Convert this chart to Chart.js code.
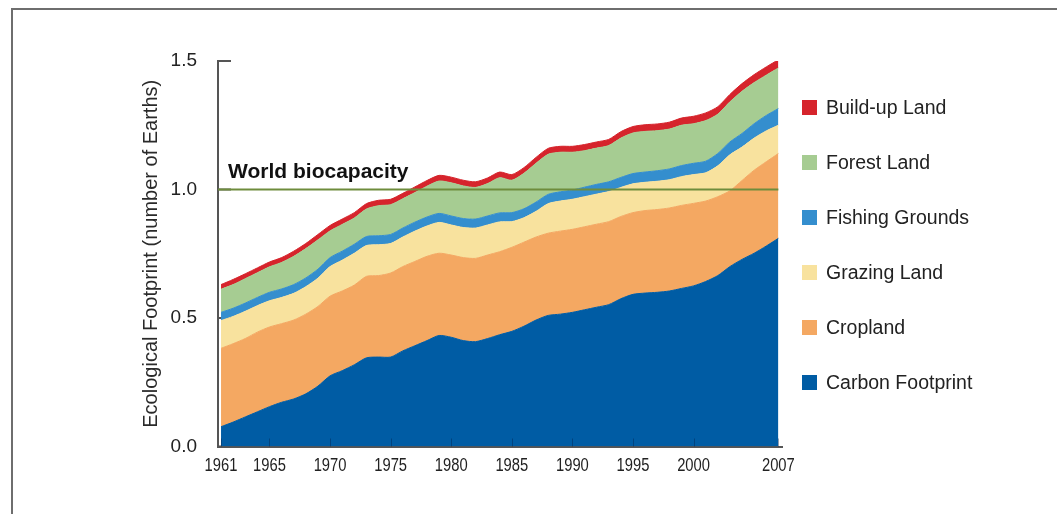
<!DOCTYPE html>
<html>
<head>
<meta charset="utf-8">
<script src="https://cdn.jsdelivr.net/npm/chart.js@4.4.0/dist/chart.umd.min.js"></script>
<style>
  body { margin: 0; background: #fff; width: 1057px; height: 514px; overflow: hidden; position: relative;
         font-family: 'Liberation Sans', Arial, sans-serif; }
  #frame { position: absolute; left: 11px; top: 8px; width: 1100px; height: 600px;
           border-top: 2px solid #6e6e6e; border-left: 2px solid #6e6e6e; }
  #canvas { position: absolute; left: 0; top: 0; }
  .item { position: absolute; left: 802px; height: 22px; font-size: 19.5px; color: #222; white-space: nowrap; }
  .item i { position: absolute; left: 0; top: 4px; width: 15px; height: 15px; }
  .item span { position: absolute; left: 24px; top: 0; line-height: 22px; }
</style>
</head>
<body>
<div id="frame"></div>
<canvas id="canvas" width="1057" height="514"></canvas>
<div id="legend"></div>
<script>
// data (number of Earths per category)
var years = [1961, 1962, 1963, 1964, 1965, 1966, 1967, 1968, 1969, 1970,
  1971, 1972, 1973, 1974, 1975, 1976, 1977, 1978, 1979, 1980,
  1981, 1982, 1983, 1984, 1985, 1986, 1987, 1988, 1989, 1990,
  1991, 1992, 1993, 1994, 1995, 1996, 1997, 1998, 1999, 2000,
  2001, 2002, 2003, 2004, 2005, 2006, 2007];
var tickYears = [1961, 1965, 1970, 1975, 1980, 1985, 1990, 1995, 2000, 2007];

var carbon = [.077, .095, .115, .135, .155, .172, .185, .205, .235, .275,
  .295, .318, .345, .348, .348, .372, .392, .412, .432, .425,
  .412, .408, .420, .435, .448, .468, .492, .510, .515, .522,
  .532, .542, .552, .575, .592, .597, .600, .605, .615, .625,
  .642, .665, .700, .728, .752, .780, .810];
var cropland = [.305, .305, .305, .310, .310, .306, .307, .310, .310, .310,
  .310, .310, .317, .317, .327, .328, .328, .328, .320, .320,
  .323, .324, .325, .323, .327, .327, .323, .320, .323, .323,
  .323, .323, .323, .320, .318, .321, .322, .323, .323, .321,
  .313, .307, .295, .307, .323, .328, .330];
var grazing = [.108, .106, .106, .103, .102, .102, .104, .107, .110, .115,
  .120, .124, .120, .120, .115, .115, .118, .118, .120, .117,
  .117, .118, .117, .116, .100, .095, .100, .115, .117, .117,
  .117, .117, .117, .113, .112, .110, .110, .110, .112, .112,
  .110, .120, .140, .130, .125, .120, .110];
var fishing = [.032, .032, .032, .032, .033, .033, .034, .034, .035, .035,
  .035, .035, .035, .035, .035, .035, .035, .035, .035, .035,
  .035, .035, .035, .035, .035, .035, .036, .036, .036, .036,
  .037, .038, .038, .039, .040, .040, .041, .042, .043, .044,
  .045, .048, .050, .053, .056, .060, .065];
var forest = [.090, .092, .095, .096, .099, .103, .110, .114, .114, .104,
  .104, .102, .107, .117, .116, .114, .115, .120, .126, .129,
  .127, .123, .126, .137, .126, .138, .151, .156, .154, .147,
  .142, .141, .141, .153, .158, .158, .156, .155, .157, .154,
  .158, .153, .156, .164, .160, .157, .158];
var builtUp = [.018, .020, .019, .019, .019, .019, .020, .020, .021, .021,
  .021, .021, .021, .021, .021, .021, .022, .022, .022, .022,
  .022, .022, .022, .022, .022, .022, .023, .023, .023, .023,
  .024, .024, .024, .025, .025, .026, .026, .027, .028, .029,
  .030, .029, .029, .030, .031, .032, .032];
var biocapacity = 1.0;

function pts(vals) {
  return years.map(function (yr, i) { return { x: yr, y: vals[i] }; });
}

function band(label, vals, color, fill) {
  return {
    label: label,
    data: pts(vals),
    backgroundColor: color,
    borderColor: color,
    borderWidth: 1,
    pointRadius: 0,
    tension: 0.25,
    fill: fill,
  };
}

var extras = {
  id: 'extras',
  beforeDatasetsDraw: function (chart) {
    var ctx = chart.ctx, area = chart.chartArea, y = chart.scales.y;
    ctx.save();
    ctx.strokeStyle = '#555';
    ctx.lineWidth = 2;
    y.ticks.forEach(function (t) {
      var py = y.getPixelForValue(t.value);
      ctx.beginPath();
      ctx.moveTo(area.left, py);
      ctx.lineTo(area.left + 13, py);
      ctx.stroke();
    });
    ctx.restore();
  },
  afterDatasetsDraw: function (chart) {
    var ctx = chart.ctx, area = chart.chartArea, x = chart.scales.x, y = chart.scales.y;
    ctx.save();
    ctx.strokeStyle = 'rgba(0,20,60,0.35)';
    ctx.lineWidth = 1;
    tickYears.forEach(function (yr) {
      var px = Math.round(x.getPixelForValue(yr)) + 0.5;
      ctx.beginPath();
      ctx.moveTo(px, area.bottom);
      ctx.lineTo(px, area.bottom - 8);
      ctx.stroke();
    });
    var by = y.getPixelForValue(biocapacity);
    ctx.strokeStyle = '#6e8c3c';
    ctx.lineWidth = 2;
    ctx.beginPath();
    ctx.moveTo(area.left, by);
    ctx.lineTo(x.getPixelForValue(years[years.length - 1]), by);
    ctx.stroke();
    ctx.font = 'bold 21px "Liberation Sans", Arial, sans-serif';
    ctx.fillStyle = '#111';
    ctx.textBaseline = 'alphabetic';
    ctx.fillText('World biocapacity', x.getPixelForValue(years[0]) + 7, by - 12);
    ctx.restore();
  },
  afterDraw: function (chart) {
    // narrow year labels under the axis
    var ctx = chart.ctx, area = chart.chartArea, x = chart.scales.x;
    ctx.save();
    ctx.font = '18px "Liberation Sans", Arial, sans-serif';
    ctx.fillStyle = '#222';
    ctx.textAlign = 'center';
    ctx.textBaseline = 'alphabetic';
    tickYears.forEach(function (yr) {
      ctx.save();
      ctx.translate(x.getPixelForValue(yr), area.bottom + 24);
      ctx.scale(0.82, 1);
      ctx.fillText(String(yr), 0, 0);
      ctx.restore();
    });
    ctx.restore();
  }
};

const ctx = document.getElementById('canvas').getContext('2d');
const myChart = new Chart(ctx, {
  type: 'line',
  data: {
    datasets: [
      band('Carbon Footprint', carbon, '#005ca4', 'origin'),
      band('Cropland', cropland, '#f4a862', '-1'),
      band('Grazing Land', grazing, '#f8e29e', '-1'),
      band('Fishing Grounds', fishing, '#348ece', '-1'),
      band('Forest Land', forest, '#a6cc92', '-1'),
      band('Build-up Land', builtUp, '#d6242c', '-1'),
    ],
  },
  options: {
    responsive: false,
    animation: false,
    layout: { padding: { left: 139, top: 61, right: 275, bottom: 27.5 } },
    plugins: { legend: { display: false }, tooltip: { enabled: false } },
    scales: {
      x: {
        type: 'linear',
        min: 1960.75,
        max: 2007.3,
        afterBuildTicks: function (scale) {
          scale.ticks = tickYears.map(function (v) { return { value: v }; });
        },
        afterFit: function (scale) { scale.height = 40; },
        grid: { display: false },
        border: { display: true, color: '#555', width: 2 },
        ticks: { display: false },
      },
      y: {
        stacked: true,
        min: 0,
        max: 1.5,
        afterFit: function (scale) { scale.width = 79; },
        grid: { display: false },
        border: { display: true, color: '#555', width: 2 },
        title: {
          display: true,
          text: 'Ecological Footprint (number of Earths)',
          color: '#2a2a2a',
          padding: 0,
          font: { family: '"Liberation Sans", Arial, sans-serif', size: 20 },
        },
        ticks: {
          stepSize: 0.5,
          padding: 13,
          color: '#222',
          font: { family: '"Liberation Sans", Arial, sans-serif', size: 19 },
          callback: function (v) { return v.toFixed(1); },
        },
      },
    },
  },
  plugins: [extras],
});

// legend on the right, top item first
var legend = document.getElementById('legend');
myChart.data.datasets.slice().reverse().forEach(function (ds, i) {
  var item = document.createElement('div');
  item.className = 'item';
  item.style.top = (96 + i * 55) + 'px';
  item.innerHTML = '<i style="background:' + ds.backgroundColor + '"></i><span>' + ds.label + '</span>';
  legend.appendChild(item);
});
</script>
</body>
</html>
